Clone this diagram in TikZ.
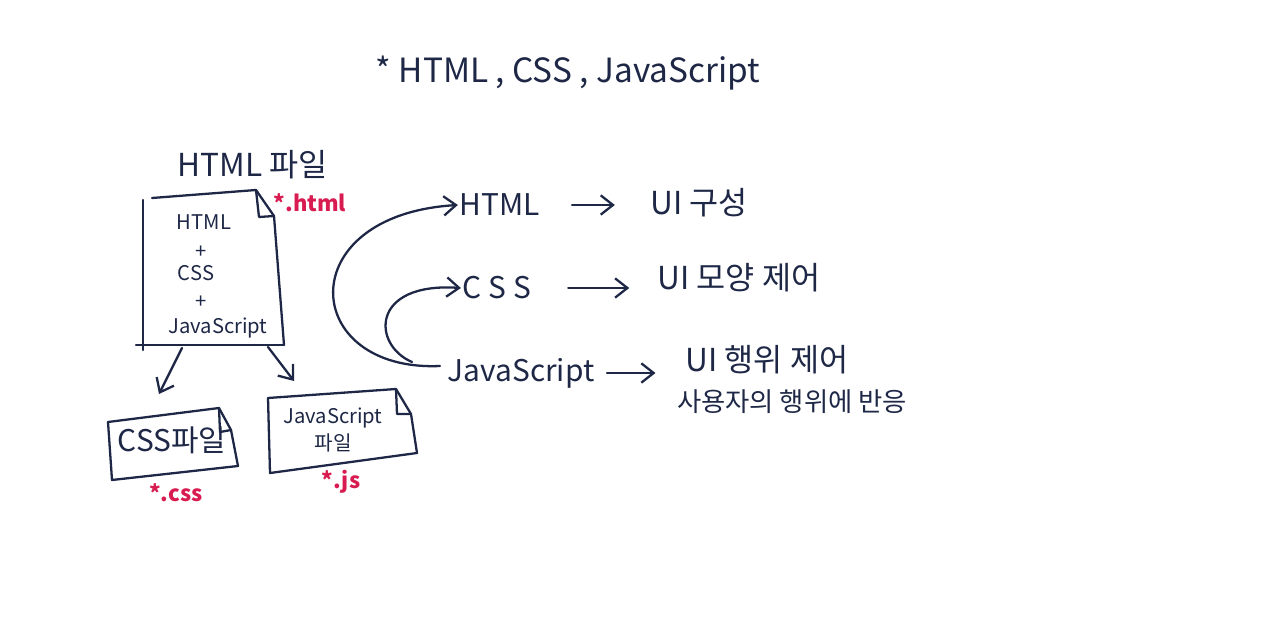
\documentclass[tikz,border=0pt]{standalone}
\usepackage{fontspec}
\setmainfont{Noto Sans CJK KR}
\usetikzlibrary{calc, positioning}
\usetikzlibrary{arrows.meta}
\definecolor{ink}{HTML}{1E2846}
\definecolor{pen}{HTML}{D81B50}
\tikzset{
  line/.style={ink, line width=1.3pt, line cap=round, line join=round},
  arr/.style={line, -{Straight Barb[length=7pt, width=11pt]}},
  txt/.style={ink, inner sep=1pt, font=\fontsize{17}{20}\selectfont},
  ui/.style={ink, inner sep=1pt, font=\fontsize{18}{20}\selectfont},
  small/.style={ink, inner sep=1pt, font=\fontsize{11.5}{14}\selectfont},
  ext/.style={pen, inner sep=1pt, font=\bfseries\fontsize{12.5}{14}\selectfont},
}
\begin{document}
\begin{tikzpicture}[x=0.02cm, y=-0.02cm]
\useasboundingbox (0,0) rectangle (1280,635);
% title
\node[txt, font=\fontsize{19}{22}\selectfont] (title) at (568,73) {* HTML , CSS , JavaScript};
% html file
\node[txt, font=\fontsize{18}{20}\selectfont] (htmlfile) at (253,165) {HTML 파일};
\coordinate (M1) at (143,200);
\coordinate (M2) at (256,190);
\coordinate (M3) at (274,216);
\coordinate (M4) at (284,345);
\coordinate (M5) at (143,345);
\draw[line] (M1) -- (143,350);
\draw[line] (152,198) -- (M2) -- (M3) -- (M4);
\draw[line] (M2) -- (259,217) -- (M3);
\draw[line] (136,345) -- (M4);
\node[small] (in1) at (204,222) {HTML};
\node[small] (in2) at (201,252) {+};
\node[small] (in3) at (196,273) {CSS};
\node[small] (in4) at (201,302) {+};
\node[small] (in5) at (218,328) {JavaScript};
\node[ext] (exthtml) at (310,203) {*.html};
% css file
\draw[line] (108,422) -- (112,480) -- (238,466) -- (231,430);
\draw[line] (108,422) -- (219,408) -- (231,430);
\draw[line] (219,408) -- (220,432) -- (231,430);
\node[txt] (cssfile) at (172,440) {CSS파일};
\node[ext] (extcss) at (176,493) {*.css};
% js file
\draw[line] (268,398) -- (270,473) -- (417,453) -- (411,414);
\draw[line] (268,398) -- (396,389) -- (411,414);
\draw[line] (396,389) -- (397,414) -- (411,414);
\node[small, align=center, font=\fontsize{11.5}{15}\selectfont] (jsfile) at (333,430) {JavaScript\\파일};
\node[ext] (extjs) at (341,482) {*.js};
% split arrows
\coordinate (S1) at (182,348);
\coordinate (S2) at (268,347);
\coordinate (T1) at (159,394);
\coordinate (T2) at (294,381);
\draw[arr] (S1) -- (T1);
\draw[arr] (S2) -- (T2);
% right list
\node[txt] (html) at (500,205) {HTML};
\node[txt] (css) at (497,288) {C S S};
\node[txt] (js) at (521,373) {JavaScript};
\node[ui] (ui1) at (699,203) {UI 구성};
\node[ui] (ui2) at (739,278) {UI 모양 제어};
\node[ui] (ui3) at (767,360) {UI 행위 제어};
\node[txt, font=\fontsize{15}{18}\selectfont] (ui4) at (792,402) {사용자의 행위에 반응};
\draw[arr, shorten <=17pt, shorten >=19pt] (html.east) -- (ui1.west |- html.east);
\draw[arr, shorten <=20pt, shorten >=15pt] (css.east) -- (ui2.west |- css.east);
\draw[arr, shorten <=6pt, shorten >=16pt] (js.east) -- (ui3.west |- js.east);
% curved arrows
\coordinate (J1) at (440,366);
\coordinate (J2) at (412,362);
\draw[arr] (J1) .. controls (300,372) and (290,215) .. (html.west);
\draw[arr] (J2) .. controls (372,345) and (370,282) .. (css.west);
\end{tikzpicture}
\end{document}
